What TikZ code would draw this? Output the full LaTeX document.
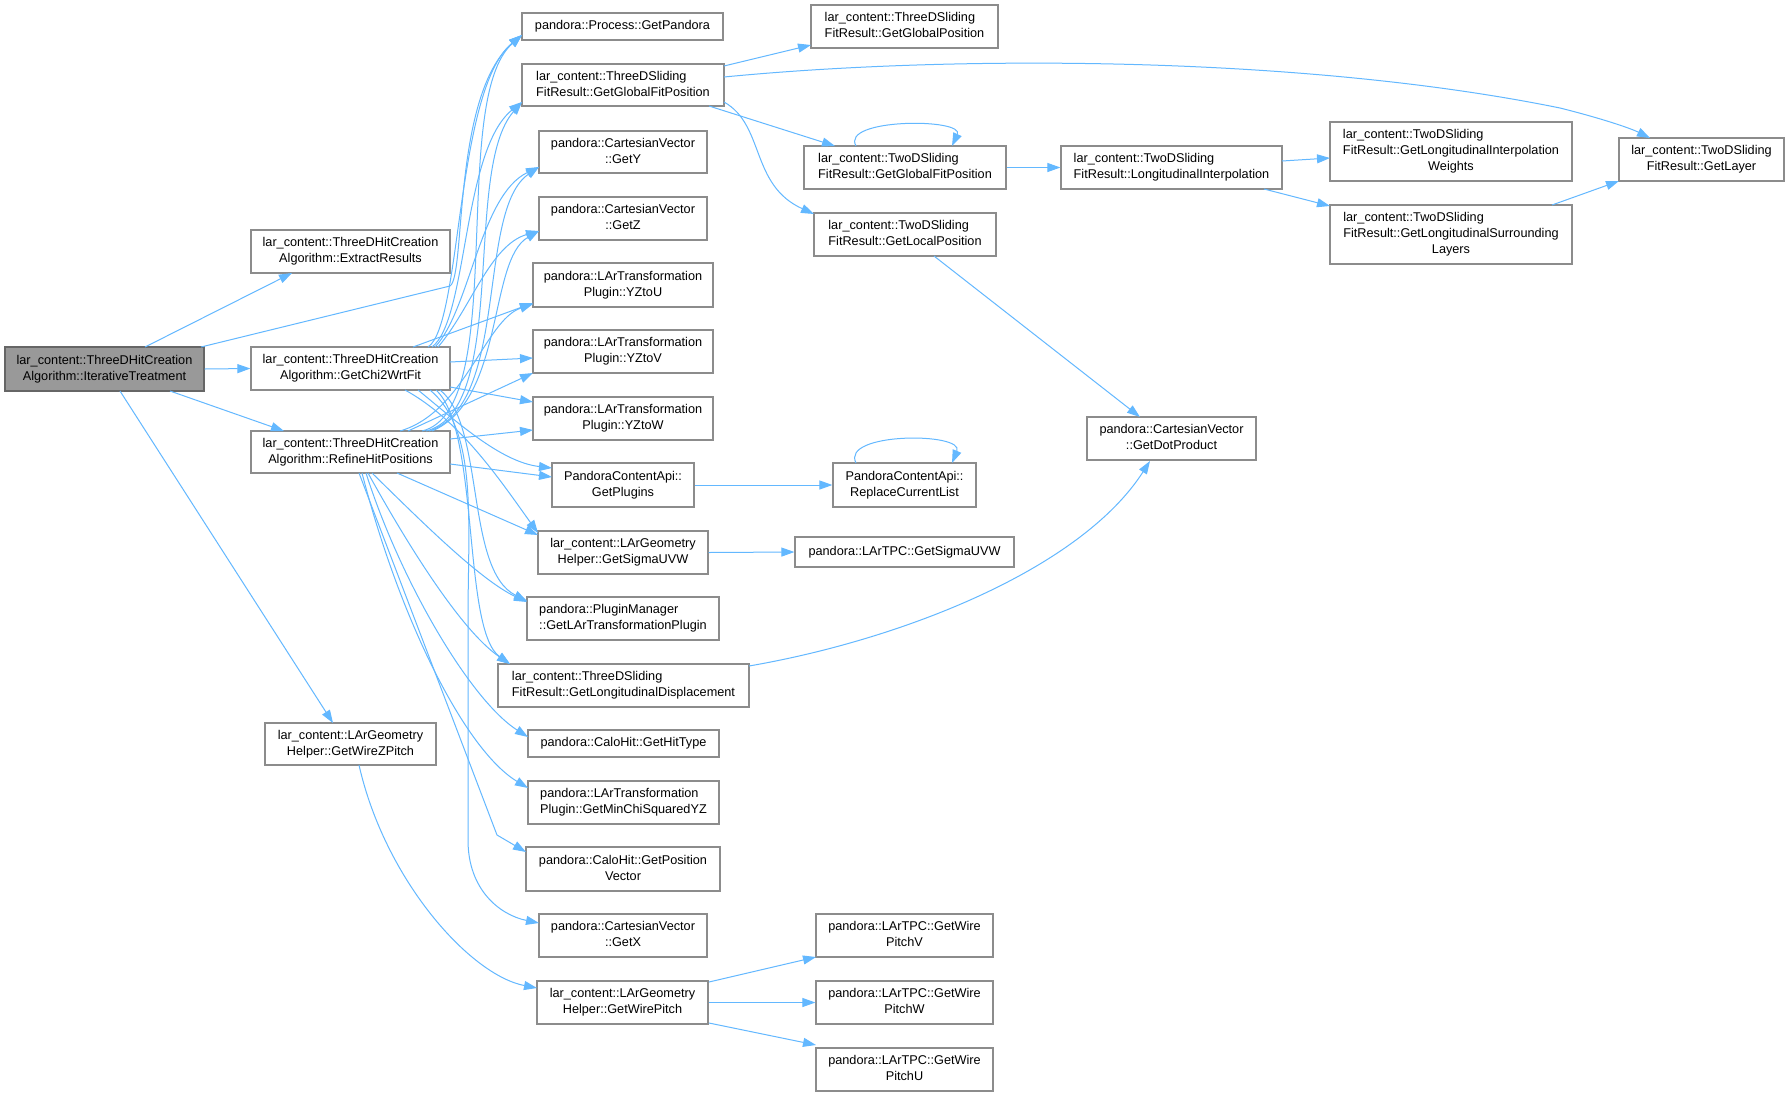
\documentclass[tikz,border=0pt]{standalone}
\usepackage{fontspec}
\setmainfont{Liberation Sans}
\usetikzlibrary{arrows.meta}
\definecolor{edgec}{HTML}{63B8FF}
\definecolor{bord}{HTML}{8C8C8C}
\definecolor{hifill}{HTML}{999999}
\definecolor{hibord}{HTML}{666666}
\newcommand\twol[2]{\begin{tabular}{@{}l@{}}#1\\\multicolumn{1}{@{}c@{}}{#2}\end{tabular}}
\newcommand\threel[3]{\begin{tabular}{@{}l@{}}#1\\#2\\\multicolumn{1}{@{}c@{}}{#3}\end{tabular}}
\newcommand\nd[7][box]{\node[#1,minimum width={(#5-#3)*1pt},minimum height={(#6-#4)*1pt}] (#2) at ({(#3+#5)/2},{(#4+#6)/2}) {#7};}
\tikzset{
  box/.style={draw=bord, fill=white, line width=1.2pt, inner sep=0pt, font=\fontsize{12.7pt}{16pt}\selectfont},
  hibox/.style={box, fill=hifill, draw=hibord},
  edg/.style={draw=edgec, line width=1pt, -{Triangle[length=13pt,width=9pt]}}
}
\begin{document}
\begin{tikzpicture}[x=1pt,y=-1pt]
\fill[white] (0,0) rectangle (1789,1096);
\useasboundingbox (0,0) rectangle (1789,1096);
% nodes
\nd[hibox]{IT}{5}{347}{204}{391}{\twol{lar\_content::ThreeDHitCreation}{Algorithm::IterativeTreatment}}
\nd{ER}{251}{230}{450}{273}{\twol{lar\_content::ThreeDHitCreation}{Algorithm::ExtractResults}}
\nd{GC}{251}{347}{450}{390}{\twol{lar\_content::ThreeDHitCreation}{Algorithm::GetChi2WrtFit}}
\nd{RH}{251}{431}{450}{473}{\twol{lar\_content::ThreeDHitCreation}{Algorithm::RefineHitPositions}}
\nd{WZ}{265}{723}{436}{765}{\twol{lar\_content::LArGeometry}{Helper::GetWireZPitch}}
\nd{GP}{522}{13}{723}{40}{pandora::Process::GetPandora}
\nd{TGF}{522}{64}{724}{106}{\twol{lar\_content::ThreeDSliding}{FitResult::GetGlobalFitPosition}}
\nd{GY}{539}{131}{707}{173}{\twol{pandora::CartesianVector}{::GetY}}
\nd{GZ}{539}{197}{707}{240}{\twol{pandora::CartesianVector}{::GetZ}}
\nd{YU}{533}{263}{713}{307}{\twol{pandora::LArTransformation}{Plugin::YZtoU}}
\nd{YV}{533}{330}{713}{373}{\twol{pandora::LArTransformation}{Plugin::YZtoV}}
\nd{YW}{533}{397}{713}{440}{\twol{pandora::LArTransformation}{Plugin::YZtoW}}
\nd{PL}{552}{463}{694}{507}{\twol{PandoraContentApi::}{GetPlugins}}
\nd{SG}{538}{531}{708}{574}{\twol{lar\_content::LArGeometry}{Helper::GetSigmaUVW}}
\nd{PM}{527}{597}{719}{640}{\twol{pandora::PluginManager}{::GetLArTransformationPlugin}}
\nd{LD}{498}{664}{749}{707}{\twol{lar\_content::ThreeDSliding}{FitResult::GetLongitudinalDisplacement}}
\nd{HT}{528}{730}{719}{757}{pandora::CaloHit::GetHitType}
\nd{MC}{528}{781}{719}{824}{\twol{pandora::LArTransformation}{Plugin::GetMinChiSquaredYZ}}
\nd{PV}{526}{847}{720}{891}{\twol{pandora::CaloHit::GetPosition}{Vector}}
\nd{GX}{539}{914}{707}{957}{\twol{pandora::CartesianVector}{::GetX}}
\nd{WP}{537}{981}{708}{1024}{\twol{lar\_content::LArGeometry}{Helper::GetWirePitch}}
\nd{WV}{816}{914}{993}{957}{\twol{pandora::LArTPC::GetWire}{PitchV}}
\nd{WW}{816}{981}{993}{1024}{\twol{pandora::LArTPC::GetWire}{PitchW}}
\nd{WU}{816}{1048}{993}{1091}{\twol{pandora::LArTPC::GetWire}{PitchU}}
\nd{TGP}{811}{5}{998}{48}{\twol{lar\_content::ThreeDSliding}{FitResult::GetGlobalPosition}}
\nd{DGF}{804}{146}{1006}{189}{\twol{lar\_content::TwoDSliding}{FitResult::GetGlobalFitPosition}}
\nd{DLP}{814}{213}{996}{256}{\twol{lar\_content::TwoDSliding}{FitResult::GetLocalPosition}}
\nd{LI}{1061}{146}{1282}{189}{\twol{lar\_content::TwoDSliding}{FitResult::LongitudinalInterpolation}}
\nd{LW}{1330}{122}{1572}{181}{\threel{lar\_content::TwoDSliding}{FitResult::GetLongitudinalInterpolation}{Weights}}
\nd{LS}{1330}{205}{1572}{264}{\threel{lar\_content::TwoDSliding}{FitResult::GetLongitudinalSurrounding}{Layers}}
\nd{GL}{1619}{138}{1784}{181}{\twol{lar\_content::TwoDSliding}{FitResult::GetLayer}}
\nd{DP}{1087}{417}{1256}{460}{\twol{pandora::CartesianVector}{::GetDotProduct}}
\nd{RC}{833}{463}{976}{507}{\twol{PandoraContentApi::}{ReplaceCurrentList}}
\nd{TS}{795}{537}{1014}{567}{pandora::LArTPC::GetSigmaUVW}
% edges from IterativeTreatment
\draw[edg] ([shift={(40.5,-22)}]IT.center) -- ([shift={(-58.5,21.5)}]ER.center);
\draw[edg] (IT.east) -- (GC.west);
\draw[edg] ([shift={(65.5,22)}]IT.center) -- ([shift={(-66.5,-21)}]RH.center);
\draw[edg] ([shift={(15.5,22)}]IT.center) -- ([shift={(-17.5,-21)}]WZ.center);
\draw[edg] ([shift={(96.5,-22)}]IT.center) -- (450,286) .. controls (466,276) and (452,95) .. ([shift={(-100.5,8.5)}]GP.center);
% edges from GetChi2WrtFit
\draw[edg] ([shift={(77.5,-21.5)}]GC.center) .. controls (462,325) and (455,90) .. ([shift={(-100.5,8.5)}]GP.center);
\draw[edg] ([shift={(81.5,-21.5)}]GC.center) .. controls (468,320) and (462,150) .. ([shift={(-101,17)}]TGF.center);
\draw[edg] ([shift={(84.5,-21.5)}]GC.center) .. controls (470,310) and (480,195) .. ([shift={(-84,15)}]GY.center);
\draw[edg] ([shift={(87.5,-21.5)}]GC.center) .. controls (470,310) and (490,245) .. ([shift={(-84,12.5)}]GZ.center);
\draw[edg] ([shift={(62.5,-21.5)}]GC.center) -- ([shift={(-90,18)}]YU.center);
\draw[edg] ([shift={(99.5,-6.5)}]GC.center) -- ([shift={(-90,6.5)}]YV.center);
\draw[edg] ([shift={(99.5,18.5)}]GC.center) -- ([shift={(-90,-16.5)}]YW.center);
\draw[edg] ([shift={(67.5,21.5)}]GC.center) .. controls (455,420) and (500,462) .. ([shift={(-71,-17)}]PL.center);
\draw[edg] ([shift={(54.5,21.5)}]GC.center) .. controls (460,420) and (500,480) .. ([shift={(-85,-19.5)}]SG.center);
\draw[edg] ([shift={(89.5,21.5)}]GC.center) .. controls (485,425) and (465,570) .. ([shift={(-96,-17.5)}]PM.center);
\draw[edg] ([shift={(85.5,21.5)}]GC.center) .. controls (480,430) and (462,630) .. ([shift={(-113.5,-21.5)}]LD.center);
\draw[edg] ([shift={(79.5,21.5)}]GC.center) .. controls (478,430) and (468,520) .. (468,620) -- (468,840) .. controls (468,890) and (500,915) .. ([shift={(-84,-12.5)}]GX.center);
% edges from RefineHitPositions
\draw[edg] ([shift={(71.5,-21)}]RH.center) .. controls (510,410) and (448,100) .. ([shift={(-100.5,8.5)}]GP.center);
\draw[edg] ([shift={(75.5,-21)}]RH.center) .. controls (510,410) and (462,170) .. ([shift={(-101,17)}]TGF.center);
\draw[edg] ([shift={(78.5,-21)}]RH.center) .. controls (510,405) and (476,210) .. ([shift={(-84,15)}]GY.center);
\draw[edg] ([shift={(81.5,-21)}]RH.center) .. controls (505,400) and (488,260) .. ([shift={(-84,12.5)}]GZ.center);
\draw[edg] ([shift={(49.5,-21)}]RH.center) .. controls (465,412) and (485,320) .. ([shift={(-90,19)}]YU.center);
\draw[edg] ([shift={(57.5,-21)}]RH.center) -- ([shift={(-90,21.5)}]YV.center);
\draw[edg] ([shift={(99.5,-13)}]RH.center) -- ([shift={(-90,11.5)}]YW.center);
\draw[edg] ([shift={(99.5,12)}]RH.center) -- ([shift={(-71,-8)}]PL.center);
\draw[edg] ([shift={(46.5,21)}]RH.center) -- ([shift={(-85,-17.5)}]SG.center);
\draw[edg] ([shift={(21.5,21)}]RH.center) .. controls (420,520) and (480,580) .. ([shift={(-96,-16.5)}]PM.center);
\draw[edg] ([shift={(17.5,21)}]RH.center) .. controls (405,540) and (460,630) .. ([shift={(-113.5,-21.5)}]LD.center);
\draw[edg] ([shift={(15.5,21)}]RH.center) .. controls (400,580) and (470,700) .. ([shift={(-95.5,-6.5)}]HT.center);
\draw[edg] ([shift={(11.5,21)}]RH.center) .. controls (400,620) and (465,750) .. ([shift={(-95.5,-14.5)}]MC.center);
\draw[edg] ([shift={(8.5,21)}]RH.center) -- (497,835) -- ([shift={(-97,-17)}]PV.center);
% edges from ThreeDSliding GetGlobalFitPosition
\draw[edg] ([shift={(101,-19)}]TGF.center) -- ([shift={(-93.5,18.5)}]TGP.center);
\draw[edg] ([shift={(101,-8)}]TGF.center) .. controls (950,55) and (1300,55) .. (1560,108) .. controls (1600,118) and (1630,128) .. ([shift={(-51.5,-21.5)}]GL.center);
\draw[edg] ([shift={(86,21)}]TGF.center) -- ([shift={(-70,-21.5)}]DGF.center);
\draw[edg] ([shift={(101,17)}]TGF.center) .. controls (765,125) and (750,185) .. ([shift={(-91,-20.5)}]DLP.center);
% right part
\draw[edg] ([shift={(-49,-21.5)}]DGF.center) .. controls (840,118) and (965,118) .. ([shift={(47,-21.5)}]DGF.center);
\draw[edg] (DGF.east) -- (LI.west);
\draw[edg] ([shift={(110.5,-6.5)}]LI.center) -- ([shift={(-121,6.5)}]LW.center);
\draw[edg] ([shift={(92.5,21.5)}]LI.center) -- ([shift={(-121,-28.5)}]LS.center);
\draw[edg] ([shift={(101,-29.5)}]LS.center) -- ([shift={(-82.5,21.5)}]GL.center);
\draw[edg] ([shift={(29,21.5)}]DLP.center) -- ([shift={(-31.5,-21.5)}]DP.center);
\draw[edg] ([shift={(125.5,-19.5)}]LD.center) .. controls (900,640) and (1080,570) .. ([shift={(-21.5,22.5)}]DP.center);
\draw[edg] (PL.east) -- (RC.west);
\draw[edg] ([shift={(-48.5,-22)}]RC.center) .. controls (840,432) and (965,432) .. ([shift={(47.5,-22)}]RC.center);
\draw[edg] (SG.east) -- (TS.west);
\draw[edg] ([shift={(8.5,21)}]WZ.center) .. controls (385,880) and (470,975) .. ([shift={(-85.5,-14.5)}]WP.center);
\draw[edg] ([shift={(86.5,-20.5)}]WP.center) -- ([shift={(-88.5,21.5)}]WV.center);
\draw[edg] (WP.east) -- (WW.west);
\draw[edg] ([shift={(86.5,20.5)}]WP.center) -- ([shift={(-88.5,-24.5)}]WU.center);
\end{tikzpicture}
\end{document}
